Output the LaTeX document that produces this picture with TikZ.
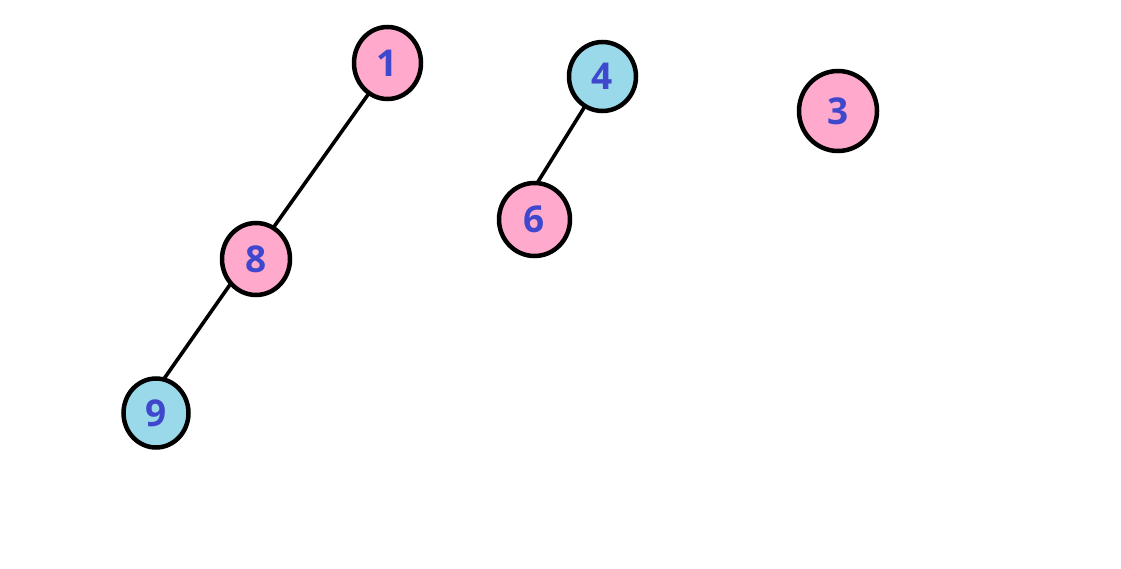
\documentclass[tikz,border=0pt]{standalone}
\usepackage{fontspec}
\setmainfont{Open Sans}
\usetikzlibrary{shapes.geometric,backgrounds}
\definecolor{pinkfill}{HTML}{FFAACC}
\definecolor{cyanfill}{HTML}{99D9EA}
\definecolor{digit}{HTML}{3F48CC}

\begin{document}
\begin{tikzpicture}[
  x=1pt,y=-1pt,
  vert/.style={ellipse,draw,line width=4.5pt,fill=#1,inner sep=0pt,text=digit,font=\fontsize{37}{37}\selectfont\bfseries},
  edge/.style={line width=3.6pt},
]
\useasboundingbox (0,0) rectangle (1121,569);

% Vertices
\node[vert=pinkfill,minimum width=67pt,minimum height=72pt] (n1) at (387.5,63) {1};
\node[vert=cyanfill,minimum width=67pt,minimum height=69pt] (n4) at (602.5,76.5) {4};
\node[vert=pinkfill,minimum width=78pt,minimum height=80pt] (n3) at (838,111) {3};
\node[vert=pinkfill,minimum width=68pt,minimum height=72pt] (n8) at (256,259) {8};
\node[vert=pinkfill,minimum width=71pt,minimum height=73pt] (n6) at (534.5,219.5) {6};
\node[vert=cyanfill,minimum width=65pt,minimum height=69pt] (n9) at (156,413) {9};

% Edges (behind the vertices)
\begin{scope}[on background layer]
\draw[edge] ([xshift=3pt]n1.center) -- ([xshift=-5pt]n8.center);
\draw[edge] ([xshift=-8pt]n8.center) -- ([xshift=-16pt]n9.center);
\draw[edge] ([xshift=1pt]n4.center) -- ([xshift=-20pt]n6.center);
\end{scope}

\end{tikzpicture}
\end{document}
